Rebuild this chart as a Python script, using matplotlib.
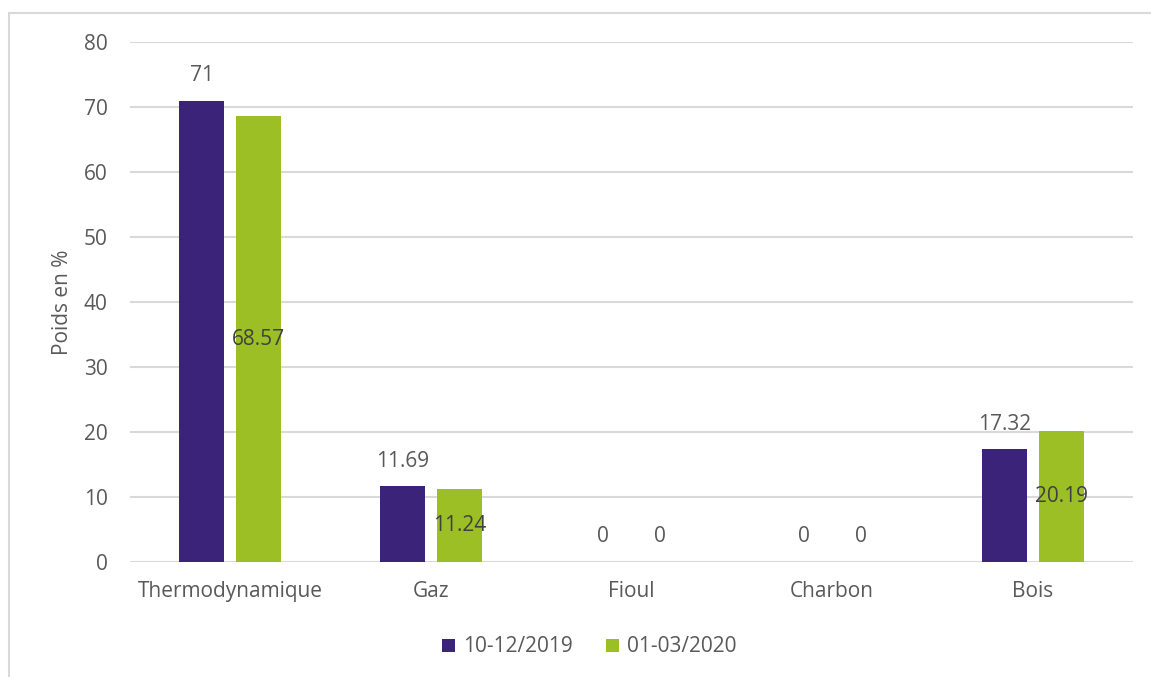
import matplotlib.pyplot as plt
from matplotlib.patches import Rectangle
import numpy as np

categories = ['Thermodynamique', 'Gaz', 'Fioul', 'Charbon', 'Bois']
serie_2019 = [71, 11.69, 0, 0, 17.32]
serie_2020 = [68.57, 11.24, 0, 0, 20.19]
labels_2019 = ['71', '11.69', '0', '0', '17.32']
labels_2020 = ['68.57', '11.24', '0', '0', '20.19']
series_names = ['10-12/2019', '01-03/2020']

PURPLE = '#3b237a'
GREEN = '#9bbf25'
TEXT = '#595959'
FS = 15

plt.rcParams['font.family'] = ['Open Sans', 'DejaVu Sans']

fig = plt.figure(figsize=(11.51, 6.77), dpi=100)
W, H = 1151, 677
# plot area in pixels: x 130..1133, y 42..562
ax = fig.add_axes([130 / W, 1 - 562 / H, (1133 - 130) / W, (562 - 42) / H])

# outer chart frame
fig.patches.append(Rectangle((9 / W, -0.01), 1.1, 1 - 13 / H + 0.01, transform=fig.transFigure,
                             fill=False, edgecolor='#d9d9d9', linewidth=1.5))

x = np.arange(len(categories))
width = 0.225
off = 0.142
b1 = ax.bar(x - off, serie_2019, width, color=PURPLE, label=series_names[0], zorder=3)
b2 = ax.bar(x + off, serie_2020, width, color=GREEN, label=series_names[1], zorder=3)

for rect, lab in zip(b1, labels_2019):
    ax.annotate(lab, (rect.get_x() + rect.get_width() / 2, rect.get_height()),
                xytext=(0, 25), textcoords='offset pixels', ha='center', va='center',
                fontsize=FS, color=TEXT)
for rect, val, lab in zip(b2, serie_2020, labels_2020):
    if val > 0:
        ax.text(rect.get_x() + rect.get_width() / 2, val / 2, lab, ha='center', va='center',
                fontsize=FS, color='#404040', zorder=4)
    else:
        ax.annotate(lab, (rect.get_x() + rect.get_width() / 2, 0),
                    xytext=(0, 25), textcoords='offset pixels', ha='center', va='center',
                    fontsize=FS, color=TEXT)

ax.set_xlim(-0.5, len(categories) - 0.5)
ax.set_ylim(0, 80)
ax.set_yticks(range(0, 81, 10))
ax.set_xticks(x)
ax.set_xticklabels(categories)
ax.tick_params(axis='both', length=0, labelsize=FS, labelcolor=TEXT)
ax.tick_params(axis='y', pad=16)
ax.tick_params(axis='x', pad=14)
ax.grid(axis='y', color='#d9d9d9', linewidth=1.5, zorder=0)
for s in ax.spines.values():
    s.set_visible(False)

ax.set_ylabel('Poids en %', fontsize=FS, color=TEXT, labelpad=8)

ax.legend(loc='center', bbox_to_anchor=(0.458, (-(647 - 562)) / (562 - 42)), ncol=2, frameon=False,
          fontsize=FS, labelcolor=TEXT, handlelength=0.6, handleheight=0.6, handletextpad=0.4,
          columnspacing=1.6)

fig.savefig('out.png', dpi=100, facecolor='white')
